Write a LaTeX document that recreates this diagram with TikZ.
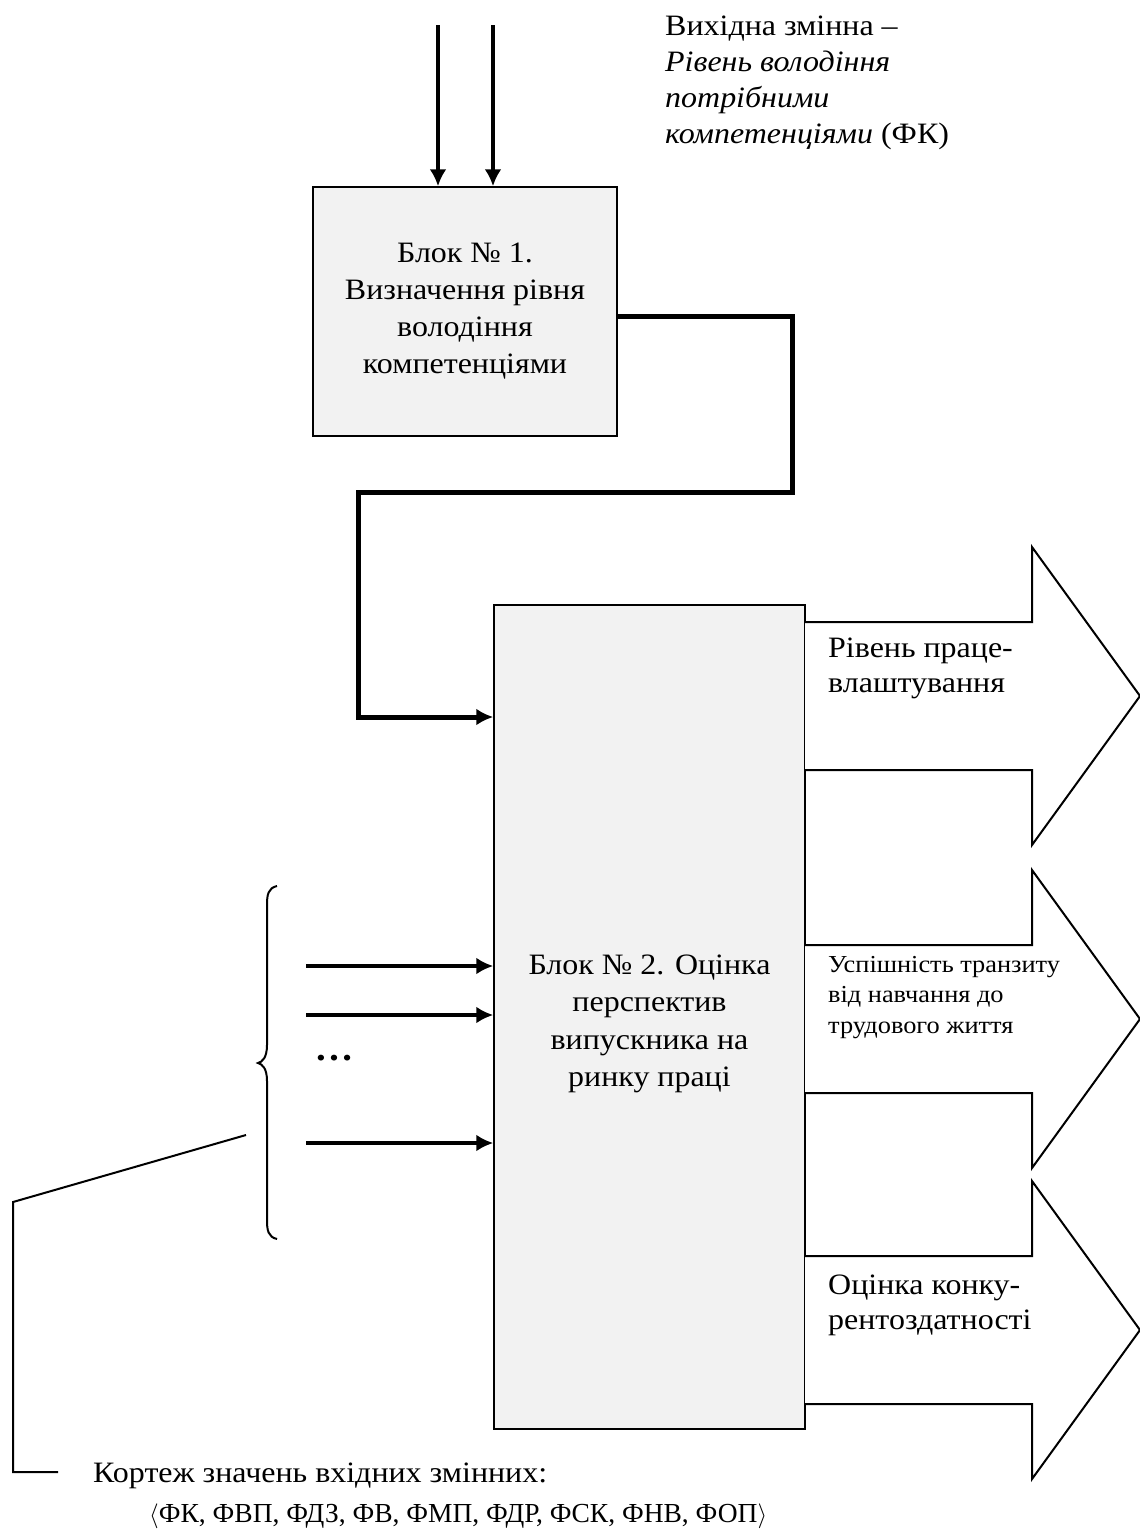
\documentclass[tikz,border=0pt]{standalone}
\usepackage{fontspec}
\setmainfont{Liberation Serif}[FakeStretch=1.08]
\newfontfamily\tuplefont{Liberation Serif}
\usetikzlibrary{arrows.meta}
\definecolor{blockgray}{HTML}{F2F2F2}
\newcommand\bigtxt{\fontsize{29.6}{37}\selectfont}
\newcommand\toptxt{\fontsize{29.6}{36}\selectfont}
\newcommand\arrtxt{\fontsize{29.6}{35}\selectfont}
\newcommand\smalltxt{\fontsize{24.4}{30.5}\selectfont}
\begin{document}
\begin{tikzpicture}[x=1pt,y=-1pt,
  block/.style={draw=black, line width=1.5pt, fill=blockgray, align=center,
                inner sep=0pt, font=\bigtxt},
  flow/.style={line width=4.5pt, -{Latex[length=17pt,width=17pt]}},
  link/.style={line width=5pt, line join=miter, -{Latex[length=17pt,width=17pt]}},
  bigarrow/.style={draw=black, line width=2pt, fill=white, line join=miter},
  outtxt/.style={align=left, inner sep=0pt, font=\arrtxt},
  thin/.style={line width=2pt}]
\useasboundingbox (0,0) rectangle (1140,1531);

% blocks
\node[block, minimum width=304pt, minimum height=249pt] (b1) at (465,311.5)
  {Блок № 1.\\Визначення рівня\\володіння\\компетенціями};
\node[block, minimum width=311pt, minimum height=824pt] (b2) at (649.5,1017) {};
\node[align=center, inner sep=0pt, font=\fontsize{29.6}{37.5}\selectfont] (b2txt)
  at ([yshift=-7pt]b2.center)
  {Блок № 2. Оцінка\\перспектив\\випускника на\\ринку праці};

% inputs of block 1
\coordinate (top1) at (438,25);
\coordinate (top2) at (493,25);
\draw[flow] (top1) -- (top1 |- b1.north);
\draw[flow] (top2) -- (top2 |- b1.north);
\node[outtxt, anchor=north west, font=\toptxt] (outvar) at (665,16)
  {Вихідна змінна –\\\textit{Рівень володіння}\\\textit{потрібними}\\\textit{компетенціями} (ФК)};

% link from block 1 to block 2
\coordinate (k1) at (792,492);
\coordinate (k2) at (358,717);
\draw[link] ([yshift=-4.5pt]b1.east) -| (k1) -| (k2) -- (k2 -| b2.west);

% output arrows
\foreach \c in {696,1019,1330}{
  \draw[bigarrow] (805,\c-74) -- (1032,\c-74) -- (1032,\c-149) -- (1140,\c)
    -- (1032,\c+149) -- (1032,\c+74) -- (805,\c+74);
}
\node[outtxt, anchor=north west] (o1) at (828,638) {Рівень праце-\\влаштування};
\node[outtxt, anchor=north west, font=\smalltxt] (o2) at (828,956)
  {Успішність транзиту\\від навчання до\\трудового життя};
\node[outtxt, anchor=north west] (o3) at (828,1275) {Оцінка конку-\\рентоздатності};

% inputs of block 2
\foreach \y/\n in {966/i1,1015/i2,1143/i3}{
  \coordinate (\n) at (306,\y);
  \draw[flow] (\n) -- (\n -| b2.west);
}
\node[font=\fontsize{36}{36}\selectfont\bfseries, inner sep=0pt] (dots) at (334,1058) {…};

% brace over the inputs
\draw[thin] (277,886) .. controls (268,888) and (267,895) .. (267,905) -- (267,1045)
  .. controls (267,1058) and (262,1062) .. (258,1063)
  .. controls (262,1064) and (267,1068) .. (267,1081) -- (267,1220)
  .. controls (267,1230) and (268,1237) .. (277,1239);

% callout to the tuple of input variables
\coordinate (p1) at (246,1135);
\coordinate (p2) at (13,1202);
\coordinate (p3) at (13,1472);
\coordinate (p4) at (58,1472);
\draw[thin] (p1) -- (p2) -- (p3) -- (p4);
\node[outtxt, anchor=base west, font=\bigtxt] (tup1) at (93,1482) {Кортеж значень вхідних змінних:};
\node[outtxt, anchor=base west, font=\tuplefont\fontsize{27.5}{33}\selectfont] (tup2) at (149,1522)
  {$\langle$ФК, ФВП, ФДЗ, ФВ, ФМП, ФДР, ФСК, ФНВ, ФОП$\rangle$};
\end{tikzpicture}
\end{document}
